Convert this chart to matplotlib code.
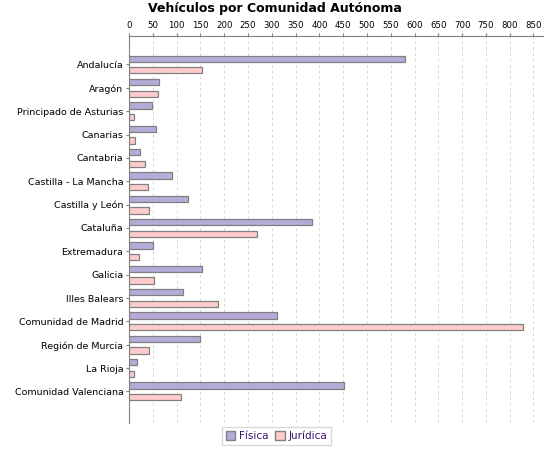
import numpy as np
import matplotlib
matplotlib.use('Agg')
from matplotlib import pyplot as plt
from matplotlib.patches import Patch

comunidades = ['Andalucía', 'Aragón', 'Principado de Asturias', 'Canarias', 'Cantabria',
               'Castilla - La Mancha', 'Castilla y León', 'Cataluña', 'Extremadura',
               'Galicia', 'Illes Balears', 'Comunidad de Madrid', 'Región de Murcia',
               'La Rioja', 'Comunidad Valenciana']
fisica = [579, 62, 49, 57, 24, 91, 125, 385, 51, 154, 114, 310, 150, 17, 451]
juridica = [154, 60, 11, 13, 34, 39, 41, 270, 22, 53, 186, 827, 43, 11, 110]
ticks = list(range(0, 851, 50))

plt.rcParams['font.family'] = ['DejaVu Sans']

fig = plt.figure(figsize=(5.5, 4.5), dpi=100)
ax = fig.add_axes([129/550, 27/450, 414/550, 387/450])

y = np.arange(len(comunidades))
ax.barh(y - 0.25, fisica, height=0.27, color='#b6aad9', edgecolor='#808080', linewidth=0.9, zorder=3)
ax.barh(y + 0.25, juridica, height=0.27, color='#ffcccc', edgecolor='#808080', linewidth=0.9, zorder=3)

ax.set_xlim(0, 870)
ax.set_ylim(15.35, -1.22)
ax.set_yticks(y)
ax.set_yticklabels(comunidades, fontsize=6.8)
ax.set_xticks(ticks)
ax.set_xticklabels([str(t) for t in ticks], fontsize=6.2)
ax.xaxis.tick_top()
ax.tick_params(axis='x', length=2, color='#808080', pad=2)
ax.tick_params(axis='y', length=2, color='#808080', pad=2)
ax.grid(axis='x', color='#d8d8d8', linestyle=(0, (3, 3)), linewidth=0.7, zorder=0)

for s in ['right', 'bottom']:
    ax.spines[s].set_visible(False)
for s in ['left', 'top']:
    ax.spines[s].set_color('#808080')

fig.suptitle('Vehículos por Comunidad Autónoma', fontsize=9, fontweight='bold', y=0.995)

handles = [Patch(facecolor='#b6aad9', edgecolor='#808080', label='Física'),
           Patch(facecolor='#ffcccc', edgecolor='#808080', label='Jurídica')]
leg = fig.legend(handles=handles, loc='lower center', ncol=2, bbox_to_anchor=(0.503, 0.0),
                 fontsize=7.5, frameon=True, fancybox=False, edgecolor='#d0d0d0',
                 handlelength=0.9, handleheight=0.9, handletextpad=0.4, columnspacing=0.6,
                 borderpad=0.35)
for t in leg.get_texts():
    t.set_color('#3c1470')

plt.savefig('out.png', dpi=100)
